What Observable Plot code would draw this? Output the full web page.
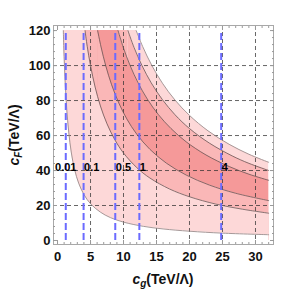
<!DOCTYPE html>
<html><head><meta charset="utf-8">
<script src="https://cdn.jsdelivr.net/npm/d3@7"></script>
<script src="https://cdn.jsdelivr.net/npm/@observablehq/plot@0.6"></script>
<style>body{margin:0;background:#fff}#chart{width:297px;height:295px}</style>
</head><body><div id="chart"></div>
<script>
// Boundary curves [c_g, c_F]
const curveA = [[0.88,120],[0.95,110],[1.05,100],[1.2,87.5],[1.4,75],[1.7,62],[2.1,50],[2.6,40.4],[3.2,32.8],[4,26.3],[5,21],[6.5,16.2],[8,13.1],[10,10.5],[13,8.1],[16,6.6],[20,5.3],[25,4.2],[32,3.3]];
const curveB = [[4.17,120],[4.5,111],[5,100],[5.7,87.7],[6.5,76.9],[7.5,66.7],[8.7,57.5],[10,50],[12,41.7],[14,35.7],[17,29.4],[20,25],[24,20.8],[28,17.9],[32,15.6]];
const curveC = [[6.08,120],[6.6,110.6],[7.3,100],[8.2,89],[9.3,78.5],[10.5,69.5],[12,60.8],[14,52.1],[16.5,44.2],[19.5,37.4],[23,31.7],[27,27],[32,22.8]];
const curveD = [[9.17,120],[10,110],[11,100],[12.2,90.2],[13.6,80.9],[15.3,71.9],[17.2,64],[19.5,56.4],[22.5,48.9],[26,42.3],[29,37.9],[32,34.4]];
const curveE = [[10.67,120],[11.6,110.3],[12.8,100],[14.2,90.1],[15.9,80.5],[17.8,71.9],[20,64],[23,55.7],[26.5,48.3],[29,44.1],[32,40]];
const curveF = [[11.92,120],[12.9,110.9],[14.3,100],[15.9,89.9],[17.8,80.3],[20,71.5],[22.8,62.7],[26,55],[29,49.3],[32,44.7]];

// Vertical width lines
const widthValues = ["0.01","0.1","0.5","1","4"];
const widthCg = [1.25, 3.95, 8.75, 12.4, 24.8];
const widthLabelCF = 40;
const cFRange = [0, 120];

// Ticks
const xMajor = [0,5,10,15,20,25,30];
const xMinor = d3.range(0, 33, 1);
const yMajor = [0,20,40,60,80,100,120];
const yMinor = d3.range(0, 121, 4);
const xGrid = [5,10,15,20,25,30];
const yGrid = [20,40,60,80,100];
const xDomain = [-0.61, 32.73];
const yDomain = [-2.29, 122.9];

const curves = {A: curveA, B: curveB, C: curveC, D: curveD, E: curveE, F: curveF};
const rows = Object.entries(curves).flatMap(([name, pts]) => pts.map(([cg, cF]) => ({curve: name, cg, cF})));

const LIGHT = "#fdd8d8", MED = "#fab7b7", DARK = "#f59999";
const layers = [["F", LIGHT], ["E", MED], ["D", DARK], ["C", MED], ["B", LIGHT], ["A", "#ffffff"]];

const fillMarks = layers.flatMap(([name, fill]) => {
  const pts = rows.filter(d => d.curve === name);
  const out = [];
  if (name !== "A") {
    out.push(Plot.rect([{x1: curveA[0][0], x2: curves[name][0][0], y1: cFRange[0], y2: cFRange[1]}],
      {x1: "x1", x2: "x2", y1: "y1", y2: "y2", fill, shapeRendering: "crispEdges"}));
  }
  out.push(Plot.areaY(pts, {x: "cg", y1: cFRange[0], y2: "cF", fill, curve: "catmull-rom"}));
  return out;
});

const tickStyle = {stroke: "#9a9a9a", label: null, tickFormat: () => ""};
const labelStyle = {tickSize: 0, fontSize: 13, fontWeight: "bold", label: null, fill: "#111"};

const plot = Plot.plot({
  width: 297, height: 295,
  marginLeft: 53, marginRight: 24, marginTop: 25, marginBottom: 51,
  x: {domain: xDomain},
  y: {domain: yDomain},
  style: {fontFamily: "'Liberation Sans', Arial, sans-serif", background: "#fff"},
  marks: [
    ...fillMarks,
    Plot.gridX(xGrid, {stroke: "#333", strokeOpacity: 0.75, strokeDasharray: "4,3", strokeWidth: 1}),
    Plot.gridY(yGrid, {stroke: "#333", strokeOpacity: 0.75, strokeDasharray: "4,3", strokeWidth: 1}),
    Plot.line(rows.filter(d => d.curve === "A" || d.curve === "F"), {x: "cg", y: "cF", z: "curve", stroke: "#9c8c8c", strokeWidth: 0.9, curve: "catmull-rom"}),
    Plot.line(rows.filter(d => d.curve !== "A" && d.curve !== "F"), {x: "cg", y: "cF", z: "curve", stroke: "#6a5656", strokeWidth: 0.8, curve: "catmull-rom"}),
    Plot.ruleX(widthCg, {y1: cFRange[0], y2: cFRange[1], stroke: "#6b6bff", strokeWidth: 2, strokeDasharray: "7,3"}),
    Plot.text([0], {x: i => widthCg[i], y: widthLabelCF, text: i => widthValues[i], textAnchor: "middle", lineAnchor: "bottom", fontSize: 11, fontWeight: "bold", fill: "#000"}),
    Plot.text([1,2,3,4], {x: i => widthCg[i], y: widthLabelCF, text: i => widthValues[i], textAnchor: "start", lineAnchor: "bottom", dx: 0.5, fontSize: 11, fontWeight: "bold", fill: "#000"}),
    Plot.frame({stroke: "#a8a8a8"}),
    Plot.axisX(xMajor, {anchor: "bottom", tickSize: -4, ...tickStyle}),
    Plot.axisX(xMinor, {anchor: "bottom", tickSize: -2, ...tickStyle}),
    Plot.axisX(xMajor, {anchor: "top", tickSize: -4, ...tickStyle}),
    Plot.axisX(xMinor, {anchor: "top", tickSize: -2, ...tickStyle}),
    Plot.axisY(yMajor, {anchor: "left", tickSize: -4, ...tickStyle}),
    Plot.axisY(yMinor, {anchor: "left", tickSize: -2, ...tickStyle}),
    Plot.axisY(yMajor, {anchor: "right", tickSize: -4, ...tickStyle}),
    Plot.axisY(yMinor, {anchor: "right", tickSize: -2, ...tickStyle}),
    Plot.axisX(xMajor, {anchor: "bottom", tickPadding: 7.5, ...labelStyle}),
    Plot.axisY(yMajor, {anchor: "left", tickPadding: 3, ...labelStyle})
  ]
});
document.getElementById("chart").appendChild(plot);

const svg = d3.select(plot);
function title(sel, sub) {
  sel.attr("font-size", 14).attr("font-weight", "bold").attr("fill", "#111")
     .attr("font-family", "'Liberation Sans', Arial, sans-serif").attr("text-anchor", "middle");
  sel.append("tspan").attr("font-style", "italic").text("c");
  sel.append("tspan").attr("font-style", "italic").attr("font-size", 10).attr("dy", 3).text(sub);
  sel.append("tspan").attr("dy", -3).text("(TeV/Λ)");
}
svg.append("text").attr("x", 163).attr("y", 284).call(title, "g");
svg.append("text").attr("transform", "translate(19,135) rotate(-90)").call(title, "F");
</script>
</body></html>
